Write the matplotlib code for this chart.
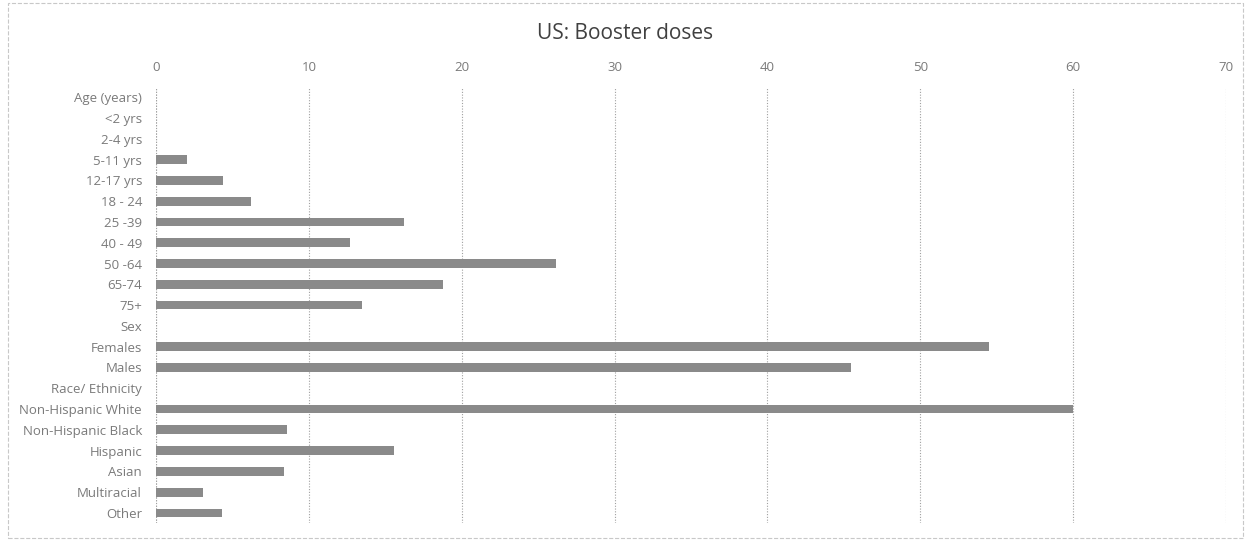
"""US booster doses: horizontal bar chart by group."""

import matplotlib.pyplot as plt
from matplotlib.patches import Rectangle

categories = [
    "Age (years)", "<2 yrs", "2-4 yrs", "5-11 yrs", "12-17 yrs", "18 - 24",
    "25 -39", "40 - 49", "50 -64", "65-74", "75+", "Sex", "Females", "Males",
    "Race/ Ethnicity", "Non-Hispanic White", "Non-Hispanic Black", "Hispanic",
    "Asian", "Multiracial", "Other",
]
values = [
    0, 0, 0, 2.0, 4.4, 6.2,
    16.2, 12.7, 26.2, 18.8, 13.5, 0, 54.5, 45.5,
    0, 60.0, 8.6, 15.6,
    8.4, 3.1, 4.3,
]
x_ticks = [0, 10, 20, 30, 40, 50, 60, 70]

plt.rcParams["font.family"] = ["Open Sans", "DejaVu Sans"]

fig = plt.figure(figsize=(12.51, 5.41), dpi=100)
ax = fig.add_axes([0.1247, 0.0325, 0.8553, 0.807])

pos = list(range(len(categories)))
ax.barh(pos, values, height=0.42, color="#8a8a8a", zorder=3)

ax.set_xlim(0, 70)
ax.set_ylim(len(categories) - 0.5, -0.5)
ax.set_xticks(x_ticks)
ax.set_yticks(pos)
ax.set_yticklabels(categories)
ax.xaxis.tick_top()
ax.tick_params(axis="both", length=0, labelsize=9.5, labelcolor="#7a7a7a")
ax.tick_params(axis="x", pad=9)
ax.tick_params(axis="y", pad=10)
for s in ax.spines.values():
    s.set_visible(False)
ax.grid(axis="x", linestyle=(0, (1, 1.5)), color="#a0a0a0", linewidth=0.8, zorder=0)
ax.axvline(0, linestyle=(0, (1, 1.5)), color="#a0a0a0", linewidth=0.8, zorder=0)

fig.text(0.5, 0.938, "US: Booster doses", ha="center", va="center",
         fontsize=15, color="#404040")

# 外枠 (破線)
fig.patches.append(Rectangle((0.006, 0.006), 0.988, 0.988, transform=fig.transFigure,
                             fill=False, edgecolor="#c8c8c8", linestyle="--",
                             linewidth=0.8))

fig.savefig("out.png", dpi=100)
